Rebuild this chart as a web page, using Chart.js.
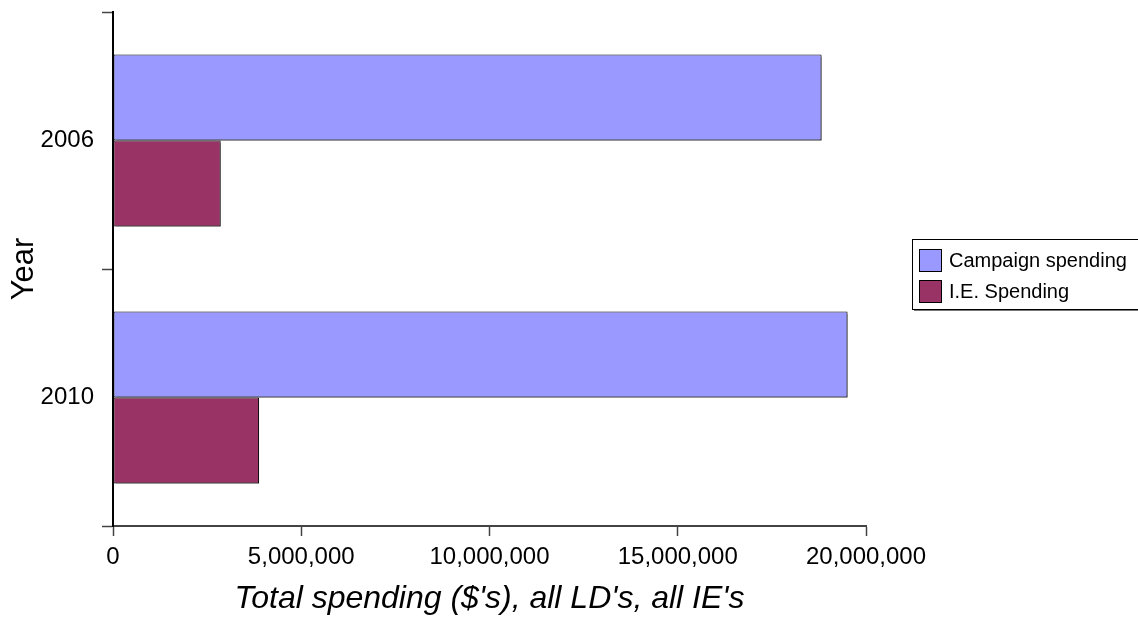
<!DOCTYPE html>
<html>
<head>
<meta charset="utf-8">
<script src="https://cdn.jsdelivr.net/npm/chart.js@4"></script>
<style>
  html, body { margin: 0; padding: 0; background: #fff; }
  canvas { display: block; }
</style>
</head>
<body>
<canvas id="chart" width="1138" height="618"></canvas>
<script>
// data
const years = ['2006', '2010'];
const campaignSpending = [18820000, 19510000];
const ieSpending = [2860000, 3880000];
const xTicks = [0, 5000000, 10000000, 15000000, 20000000];

const FONT = '"Liberation Sans", Arial, sans-serif';

// excel-ish legend: bordered box with square swatches
const boxLegend = {
    id: 'boxLegend',
    afterDraw(chart) {
        const ctx = chart.ctx;
        const x = 912, y = 239, w = 232, h = 70;
        ctx.save();
        ctx.fillStyle = '#777';
        ctx.fillRect(x + 2, y + 2, w, h);
        ctx.fillStyle = '#fff';
        ctx.fillRect(x, y, w, h);
        ctx.strokeStyle = '#000';
        ctx.lineWidth = 1;
        ctx.strokeRect(x + 0.5, y + 0.5, w, h);
        ctx.font = '20px ' + FONT;
        ctx.textBaseline = 'middle';
        chart.data.datasets.forEach((ds, i) => {
            const rowY = y + 21 + i * 31;
            ctx.fillStyle = ds.backgroundColor;
            ctx.fillRect(x + 7, rowY - 11, 22, 22);
            ctx.strokeStyle = '#000';
            ctx.strokeRect(x + 7.5, rowY - 10.5, 22, 22);
            ctx.fillStyle = '#000';
            ctx.fillText(ds.label, x + 37, rowY + 1);
        });
        ctx.restore();
    }
};

// small drop shadow under the bars
const barShadow = {
    id: 'barShadow',
    beforeDatasetsDraw(chart) {
        const ctx = chart.ctx;
        ctx.save();
        ctx.shadowColor = 'rgba(0,0,0,0.45)';
        ctx.shadowOffsetX = 2;
        ctx.shadowOffsetY = 2;
        ctx.shadowBlur = 0;
    },
    afterDatasetsDraw(chart) {
        chart.ctx.restore();
    }
};

new Chart(document.getElementById('chart').getContext('2d'), {
    type: 'bar',
    data: {
        labels: years,
        datasets: [
            {
                label: 'Campaign spending',
                data: campaignSpending,
                backgroundColor: '#9999FF',
                borderColor: '#000',
                borderWidth: 1,
                borderSkipped: false
            },
            {
                label: 'I.E. Spending',
                data: ieSpending,
                backgroundColor: '#993366',
                borderColor: '#000',
                borderWidth: 1,
                borderSkipped: false
            }
        ]
    },
    options: {
        indexAxis: 'y',
        responsive: false,
        animation: false,
        devicePixelRatio: 1,
        layout: { padding: { top: 12, right: 272, left: 0, bottom: 0 } },
        datasets: { bar: { categoryPercentage: 0.67, barPercentage: 1 } },
        plugins: {
            legend: { display: false },
            tooltip: { enabled: false }
        },
        scales: {
            x: {
                min: 0,
                max: 20000000,
                afterBuildTicks(scale) {
                    scale.ticks = xTicks.map(v => ({ value: v }));
                },
                afterFit(scale) { scale.height = 92; },
                grid: {
                    drawOnChartArea: false,
                    drawTicks: true,
                    tickLength: 10,
                    tickColor: '#444',
                    tickWidth: 1.5
                },
                border: { display: true, color: '#444', width: 2 },
                ticks: {
                    color: '#000',
                    font: { family: FONT, size: 24 },
                    padding: 7,
                    maxRotation: 0,
                    callback: v => v.toLocaleString('en-US')
                },
                title: {
                    display: true,
                    text: "Total spending ($'s), all LD's, all IE's",
                    color: '#000',
                    font: { family: FONT, size: 32, style: 'italic' },
                    padding: { top: 0, bottom: 0 }
                }
            },
            y: {
                afterFit(scale) {
                    scale.width = 113;
                    // no extra room for half-labels at the ends
                    scale.paddingTop = 0;
                    scale.paddingBottom = 0;
                },
                grid: {
                    offset: true,
                    drawOnChartArea: false,
                    drawTicks: true,
                    tickLength: 11,
                    tickColor: '#444',
                    tickWidth: 1.5
                },
                border: { display: true, color: '#000', width: 2 },
                ticks: {
                    color: '#000',
                    font: { family: FONT, size: 24 },
                    padding: 8
                },
                title: {
                    display: true,
                    text: 'Year',
                    color: '#000',
                    font: { family: FONT, size: 31 },
                    padding: { top: 6, bottom: 4 }
                }
            }
        }
    },
    plugins: [barShadow, boxLegend]
});
</script>
</body>
</html>
